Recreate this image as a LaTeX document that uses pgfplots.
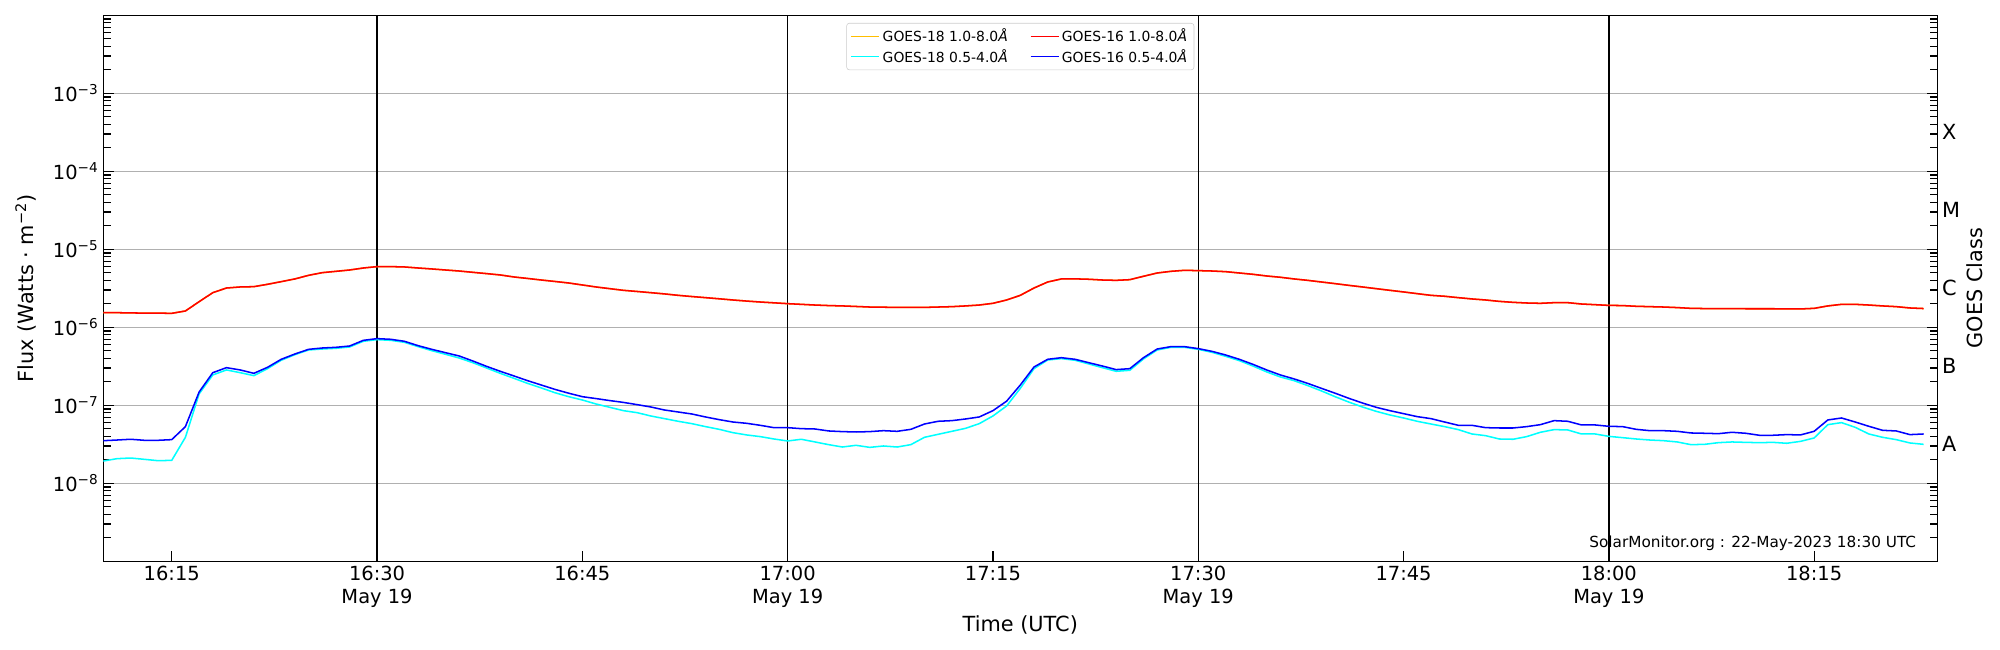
\documentclass[border=0pt]{standalone}
\usepackage{fontspec}
\setmainfont{DejaVu Sans}
\usepackage{pgfplots}
\usepackage{pgfplotstable}
\pgfplotsset{compat=1.18}
\definecolor{goldline}{RGB}{255,190,0}
\definecolor{aqua}{RGB}{0,255,255}
\definecolor{pureblue}{RGB}{0,0,255}
\definecolor{purered}{RGB}{255,0,0}
\pgfplotstableread{
m g18l g16l g18s g16s
10 1.54e-6 1.54e-6 1.93e-8 3.52e-8
11 1.54e-6 1.54e-6 2.07e-8 3.59e-8
12 1.53e-6 1.53e-6 2.11e-8 3.67e-8
13 1.52e-6 1.52e-6 2.03e-8 3.56e-8
14 1.52e-6 1.52e-6 1.95e-8 3.56e-8
15 1.51e-6 1.51e-6 1.97e-8 3.63e-8
16 1.62e-6 1.62e-6 3.89e-8 5.33e-8
17 2.13e-6 2.13e-6 1.40e-7 1.48e-7
18 2.78e-6 2.78e-6 2.45e-7 2.62e-7
19 3.19e-6 3.19e-6 2.84e-7 3.04e-7
20 3.29e-6 3.29e-6 2.62e-7 2.84e-7
21 3.32e-6 3.32e-6 2.40e-7 2.57e-7
22 3.56e-6 3.56e-6 2.95e-7 3.07e-7
23 3.85e-6 3.85e-6 3.78e-7 3.89e-7
24 4.17e-6 4.17e-6 4.46e-7 4.55e-7
25 4.64e-6 4.64e-6 5.12e-7 5.22e-7
26 5.02e-6 5.02e-6 5.27e-7 5.43e-7
27 5.22e-6 5.22e-6 5.38e-7 5.54e-7
28 5.43e-6 5.43e-6 5.60e-7 5.76e-7
29 5.76e-6 5.76e-6 6.62e-7 6.81e-7
30 6.00e-6 6.00e-6 6.95e-7 7.16e-7
31 6.00e-6 6.00e-6 6.81e-7 7.02e-7
32 5.94e-6 5.94e-6 6.42e-7 6.62e-7
33 5.76e-6 5.76e-6 5.65e-7 5.82e-7
34 5.60e-6 5.60e-6 5.02e-7 5.22e-7
35 5.43e-6 5.43e-6 4.51e-7 4.73e-7
36 5.27e-6 5.27e-6 4.04e-7 4.29e-7
37 5.07e-6 5.07e-6 3.52e-7 3.70e-7
38 4.88e-6 4.88e-6 3.01e-7 3.16e-7
39 4.69e-6 4.69e-6 2.57e-7 2.73e-7
40 4.42e-6 4.42e-6 2.22e-7 2.38e-7
41 4.23e-6 4.23e-6 1.91e-7 2.07e-7
42 4.04e-6 4.04e-6 1.67e-7 1.82e-7
43 3.87e-6 3.87e-6 1.45e-7 1.60e-7
44 3.70e-6 3.70e-6 1.29e-7 1.43e-7
45 3.49e-6 3.49e-6 1.17e-7 1.29e-7
46 3.29e-6 3.29e-6 1.04e-7 1.22e-7
47 3.13e-6 3.13e-6 9.43e-8 1.15e-7
48 2.98e-6 2.98e-6 8.54e-8 1.09e-7
49 2.88e-6 2.88e-6 8.05e-8 1.02e-7
50 2.78e-6 2.78e-6 7.30e-8 9.52e-8
51 2.68e-6 2.68e-6 6.75e-8 8.71e-8
52 2.57e-6 2.57e-6 6.24e-8 8.21e-8
53 2.48e-6 2.48e-6 5.82e-8 7.74e-8
54 2.40e-6 2.40e-6 5.33e-8 7.09e-8
55 2.32e-6 2.32e-6 4.92e-8 6.55e-8
56 2.24e-6 2.24e-6 4.46e-8 6.11e-8
57 2.17e-6 2.17e-6 4.17e-8 5.88e-8
58 2.11e-6 2.11e-6 3.97e-8 5.54e-8
59 2.06e-6 2.06e-6 3.70e-8 5.17e-8
60 2.01e-6 2.01e-6 3.49e-8 5.17e-8
61 1.97e-6 1.97e-6 3.67e-8 5.02e-8
62 1.93e-6 1.93e-6 3.39e-8 4.97e-8
63 1.90e-6 1.90e-6 3.13e-8 4.69e-8
64 1.88e-6 1.88e-6 2.92e-8 4.60e-8
65 1.85e-6 1.85e-6 3.07e-8 4.55e-8
66 1.82e-6 1.82e-6 2.89e-8 4.60e-8
67 1.81e-6 1.81e-6 3.01e-8 4.73e-8
68 1.80e-6 1.80e-6 2.92e-8 4.64e-8
69 1.80e-6 1.80e-6 3.13e-8 4.92e-8
70 1.80e-6 1.80e-6 3.89e-8 5.76e-8
71 1.82e-6 1.82e-6 4.25e-8 6.24e-8
72 1.84e-6 1.84e-6 4.64e-8 6.36e-8
73 1.88e-6 1.88e-6 5.07e-8 6.68e-8
74 1.93e-6 1.93e-6 5.82e-8 7.09e-8
75 2.03e-6 2.03e-6 7.30e-8 8.54e-8
76 2.24e-6 2.24e-6 9.81e-8 1.13e-7
77 2.57e-6 2.57e-6 1.65e-7 1.82e-7
78 3.19e-6 3.19e-6 2.95e-7 3.10e-7
79 3.81e-6 3.81e-6 3.81e-7 3.89e-7
80 4.17e-6 4.17e-6 3.97e-7 4.08e-7
81 4.18e-6 4.18e-6 3.78e-7 3.89e-7
82 4.13e-6 4.13e-6 3.39e-7 3.52e-7
83 4.04e-6 4.04e-6 3.04e-7 3.19e-7
84 4.00e-6 4.00e-6 2.73e-7 2.87e-7
85 4.08e-6 4.08e-6 2.81e-7 2.95e-7
86 4.51e-6 4.51e-6 3.93e-7 4.08e-7
87 4.97e-6 4.97e-6 5.12e-7 5.27e-7
88 5.22e-6 5.22e-6 5.54e-7 5.65e-7
89 5.38e-6 5.38e-6 5.54e-7 5.65e-7
90 5.33e-6 5.33e-6 5.22e-7 5.33e-7
91 5.27e-6 5.27e-6 4.78e-7 4.92e-7
92 5.17e-6 5.17e-6 4.25e-7 4.42e-7
93 4.97e-6 4.97e-6 3.74e-7 3.89e-7
94 4.78e-6 4.78e-6 3.19e-7 3.35e-7
95 4.55e-6 4.55e-6 2.68e-7 2.84e-7
96 4.38e-6 4.38e-6 2.31e-7 2.45e-7
97 4.17e-6 4.17e-6 2.07e-7 2.18e-7
98 4.00e-6 4.00e-6 1.79e-7 1.91e-7
99 3.81e-6 3.81e-6 1.53e-7 1.65e-7
100 3.63e-6 3.63e-6 1.29e-7 1.43e-7
101 3.45e-6 3.45e-6 1.10e-7 1.23e-7
102 3.29e-6 3.29e-6 9.52e-8 1.07e-7
103 3.13e-6 3.13e-6 8.37e-8 9.43e-8
104 2.98e-6 2.98e-6 7.52e-8 8.54e-8
105 2.84e-6 2.84e-6 6.88e-8 7.82e-8
106 2.70e-6 2.70e-6 6.24e-8 7.16e-8
107 2.57e-6 2.57e-6 5.76e-8 6.75e-8
108 2.50e-6 2.50e-6 5.33e-8 6.11e-8
109 2.40e-6 2.40e-6 4.88e-8 5.54e-8
110 2.31e-6 2.31e-6 4.29e-8 5.54e-8
111 2.24e-6 2.24e-6 4.08e-8 5.17e-8
112 2.15e-6 2.15e-6 3.70e-8 5.12e-8
113 2.09e-6 2.09e-6 3.67e-8 5.12e-8
114 2.05e-6 2.05e-6 3.97e-8 5.33e-8
115 2.03e-6 2.03e-6 4.51e-8 5.65e-8
116 2.07e-6 2.07e-6 4.88e-8 6.36e-8
117 2.07e-6 2.07e-6 4.83e-8 6.24e-8
118 1.99e-6 1.99e-6 4.29e-8 5.60e-8
119 1.95e-6 1.95e-6 4.29e-8 5.60e-8
120 1.91e-6 1.91e-6 4.00e-8 5.38e-8
121 1.90e-6 1.90e-6 3.85e-8 5.33e-8
122 1.86e-6 1.86e-6 3.70e-8 4.92e-8
123 1.84e-6 1.84e-6 3.59e-8 4.73e-8
124 1.82e-6 1.82e-6 3.52e-8 4.73e-8
125 1.79e-6 1.79e-6 3.39e-8 4.64e-8
126 1.75e-6 1.75e-6 3.13e-8 4.42e-8
127 1.74e-6 1.74e-6 3.16e-8 4.38e-8
128 1.74e-6 1.74e-6 3.32e-8 4.33e-8
129 1.74e-6 1.74e-6 3.39e-8 4.51e-8
130 1.73e-6 1.73e-6 3.35e-8 4.38e-8
131 1.73e-6 1.73e-6 3.32e-8 4.13e-8
132 1.73e-6 1.73e-6 3.35e-8 4.13e-8
133 1.72e-6 1.72e-6 3.26e-8 4.21e-8
134 1.72e-6 1.72e-6 3.45e-8 4.17e-8
135 1.75e-6 1.75e-6 3.81e-8 4.64e-8
136 1.88e-6 1.88e-6 5.65e-8 6.49e-8
137 1.97e-6 1.97e-6 6.00e-8 6.88e-8
138 1.97e-6 1.97e-6 5.22e-8 6.11e-8
139 1.93e-6 1.93e-6 4.29e-8 5.38e-8
140 1.88e-6 1.88e-6 3.89e-8 4.78e-8
141 1.84e-6 1.84e-6 3.63e-8 4.69e-8
142 1.77e-6 1.77e-6 3.29e-8 4.21e-8
143 1.74e-6 1.74e-6 3.16e-8 4.29e-8
}\goesdata
\begin{document}
\begin{tikzpicture}
\path[use as bounding box] (0,0) rectangle (1440pt,468pt);
\begin{axis}[
  name=ax, at={(74.38pt,63.86pt)}, anchor=south west,
  scale only axis, width=1320.48pt, height=393.12pt,
  xmin=10, xmax=144, ymode=log, ymin=1e-9, ymax=1e-2,
  axis line style={black, line width=0.9pt},
  xtick={15,45,75,105,135},
  xticklabels={16:15,16:45,17:15,17:45,18:15},
  extra x ticks={30,60,90,120},
  extra x tick labels={{16:30\\May 19},{17:00\\May 19},{17:30\\May 19},{18:00\\May 19}},
  extra x tick style={grid=major, major grid style={black, line width=1pt}},
  xtick pos=bottom, ytick pos=both, yticklabel pos=left,
  ytick={1e-9,1e-8,1e-7,1e-6,1e-5,1e-4,1e-3,1e-2},
  minor ytick={2e-9,3e-9,4e-9,5e-9,6e-9,7e-9,8e-9,9e-9,
               2e-8,3e-8,4e-8,5e-8,6e-8,7e-8,8e-8,9e-8,
               2e-7,3e-7,4e-7,5e-7,6e-7,7e-7,8e-7,9e-7,
               2e-6,3e-6,4e-6,5e-6,6e-6,7e-6,8e-6,9e-6,
               2e-5,3e-5,4e-5,5e-5,6e-5,7e-5,8e-5,9e-5,
               2e-4,3e-4,4e-4,5e-4,6e-4,7e-4,8e-4,9e-4,
               2e-3,3e-3,4e-3,5e-3,6e-3,7e-3,8e-3,9e-3},
  yticklabels={{},{10\textsuperscript{−8}},{10\textsuperscript{−7}},{10\textsuperscript{−6}},{10\textsuperscript{−5}},{10\textsuperscript{−4}},{10\textsuperscript{−3}},{}},
  tick align=inside, major tick length=7.5pt, minor tick length=5.5pt,
  every tick/.style={black, line width=0.9pt},
  ymajorgrids=true,
  major grid style={color=black!31, line width=0.8pt},
  tick label style={font=\fontsize{14}{16.8}\selectfont},
  x tick label style={align=center},
  xlabel={Time (UTC)},
  xlabel style={at={(axis description cs:0.5,-0.117)}, anchor=center, font=\fontsize{15}{18}\selectfont},
  ylabel={Flux (Watts · m\textsuperscript{−2})},
  ylabel style={at={(axis description cs:-0.0423,0.5)}, anchor=center, font=\fontsize{15}{18}\selectfont},
  legend style={at={(axis description cs:0.5,0.986)}, anchor=north, legend columns=2,
    draw=black!20, fill=white, fill opacity=0.8, text opacity=1, rounded corners=2pt,
    font=\fontsize{10}{12}\selectfont, inner xsep=3pt, inner ysep=2pt,
    /tikz/every even column/.append style={column sep=14pt}},
  legend cell align=left,
  legend image code/.code={\draw[#1, line width=1pt] (0pt,0pt) -- (20pt,0pt);},
  every axis plot/.append style={line width=1.1pt, line join=round},
]
\addplot[goldline] table[x=m,y=g18l] {\goesdata};
\addlegendentry{GOES-18 1.0-8.0\textit{Å}}
\addplot[purered] table[x=m,y=g16l] {\goesdata};
\addlegendentry{GOES-16 1.0-8.0\textit{Å}}
\addplot[aqua] table[x=m,y=g18s] {\goesdata};
\addlegendentry{GOES-18 0.5-4.0\textit{Å}}
\addplot[pureblue] table[x=m,y=g16s] {\goesdata};
\addlegendentry{GOES-16 0.5-4.0\textit{Å}}
\node[anchor=east, font=\fontsize{11}{13}\selectfont, inner sep=0pt] at (axis description cs:0.9886,0.033) {SolarMonitor.org : 22-May-2023 18:30 UTC};
\end{axis}
\begin{axis}[
  at={(74.38pt,63.86pt)}, anchor=south west,
  scale only axis, width=1320.48pt, height=393.12pt,
  xmin=10, xmax=144, ymode=log, ymin=1e-9, ymax=1e-2,
  axis x line=none, axis y line*=right, y axis line style={draw=none},
  ytick={3.1623e-8,3.1623e-7,3.1623e-6,3.1623e-5,3.1623e-4},
  yticklabels={A,B,C,M,X},
  major tick length=0pt, minor tick length=0pt,
  yticklabel style={font=\fontsize{15}{18}\selectfont, anchor=west},
  ylabel={GOES Class},
  ylabel style={at={(axis description cs:1.0202,0.5)}, anchor=center, font=\fontsize{15}{18}\selectfont},
]
\addplot[draw=none] coordinates {(10,1e-6)};
\end{axis}
\end{tikzpicture}
\end{document}
